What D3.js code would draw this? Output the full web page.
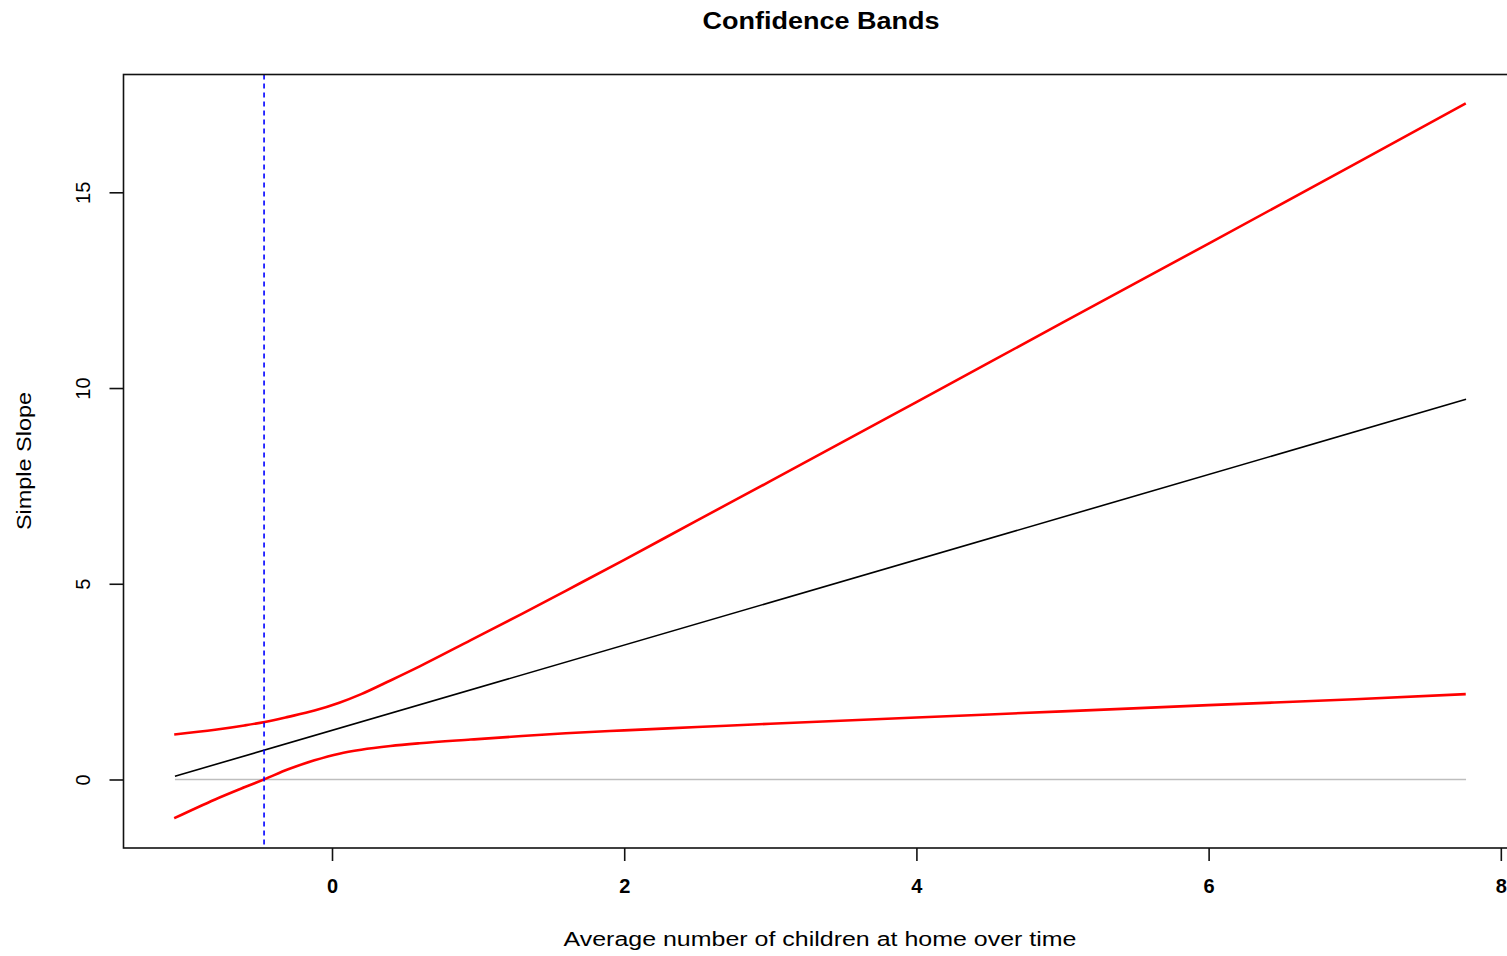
<!DOCTYPE html>
<html>
<head>
<meta charset="utf-8">
<script src="https://cdn.jsdelivr.net/npm/d3@7"></script>
<style>
  html, body { margin: 0; padding: 0; background: #fff; overflow: hidden; }
  svg { display: block; font-family: "Liberation Sans", Arial, Helvetica, sans-serif; }
</style>
</head>
<body>
<svg id="chart" width="1507" height="956"></svg>
<script>
// ---- data ----
const title = "Confidence Bands";
const xTitle = "Average number of children at home over time";
const yTitle = "Simple Slope";
const xTicks = [0, 2, 4, 6, 8];
const yTicks = [0, 5, 10, 15];

const slopeX = [-1.075, 7.762];
const slopeY = [0.083, 9.711];

const bandX  = [-1.08, -0.8, -0.6, -0.46, -0.3, -0.12, 0.05, 0.2, 0.4, 0.6, 0.95, 1.3, 1.6, 2.0, 2.5, 3.0, 4.0, 5.0, 6.0, 7.0, 7.76];
const upperY = [1.15, 1.27, 1.38, 1.47, 1.60, 1.76, 1.96, 2.18, 2.53, 2.89, 3.56, 4.23, 4.82, 5.61, 6.62, 7.62, 9.64, 11.67, 13.69, 15.72, 17.27];
const lowerY = [-0.99, -0.51, -0.20, 0.01, 0.26, 0.49, 0.66, 0.76, 0.855, 0.925, 1.02, 1.11, 1.18, 1.255, 1.34, 1.425, 1.585, 1.74, 1.90, 2.05, 2.18];

const zeroX = [-1.075, 7.762];
const zeroY = [0, 0];

const jnPoint = -0.465;   // vertical dashed line position

// ---- layout ----
const svg = d3.select("#chart");
const plot = { left: 123.5, top: 74.5, right: 1518.5, bottom: 848 };

const x = d3.scaleLinear().domain([-1.436, 8.121]).range([plot.left - 1.3, plot.right]);
const y = d3.scaleLinear().domain([-1.75, 18.04]).range([plot.bottom, plot.top - 1.2]);

const line = d3.line().x(d => x(d[0])).y(d => y(d[1]));
const smooth = d3.line().x(d => x(d[0])).y(d => y(d[1])).curve(d3.curveMonotoneX);
const zip = (a, b) => a.map((v, i) => [v, b[i]]);

// zero reference line
svg.append("path").attr("d", line(zip(zeroX, zeroY)))
  .attr("fill", "none").attr("stroke", "#bebebe").attr("stroke-width", 1.6);

// simple slope line
svg.append("path").attr("d", line(zip(slopeX, slopeY)))
  .attr("fill", "none").attr("stroke", "#000").attr("stroke-width", 1.6);

// confidence bands
svg.append("path").attr("d", smooth(zip(bandX, upperY)))
  .attr("fill", "none").attr("stroke", "#ff0000").attr("stroke-width", 2.6);
svg.append("path").attr("d", smooth(zip(bandX, lowerY)))
  .attr("fill", "none").attr("stroke", "#ff0000").attr("stroke-width", 2.6);

// dashed vertical line
svg.append("line")
  .attr("x1", x(jnPoint)).attr("x2", x(jnPoint))
  .attr("y1", plot.top).attr("y2", plot.bottom)
  .attr("stroke", "#0000ff").attr("stroke-width", 1.6)
  .attr("stroke-dasharray", "5,4");

// plot box
svg.append("rect")
  .attr("x", plot.left).attr("y", plot.top)
  .attr("width", plot.right - plot.left).attr("height", plot.bottom - plot.top)
  .attr("fill", "none").attr("stroke", "#111").attr("stroke-width", 1.6);

// x axis
const xAxis = svg.append("g").attr("transform", `translate(0,${plot.bottom})`)
  .call(d3.axisBottom(x).tickValues(xTicks).tickSize(13).tickPadding(18).tickFormat(d3.format("d")));
xAxis.select(".domain").remove();
xAxis.selectAll(".tick line").attr("stroke", "#111").attr("stroke-width", 1.6);
xAxis.selectAll(".tick text")
  .attr("fill", "#000").style("font-size", "20px").style("font-weight", "bold");

// y axis
const yAxis = svg.append("g").attr("transform", `translate(${plot.left},0)`)
  .call(d3.axisLeft(y).tickValues(yTicks).tickSize(14).tickFormat(d3.format("d")));
yAxis.select(".domain").remove();
yAxis.selectAll(".tick line").attr("stroke", "#111").attr("stroke-width", 1.6);
yAxis.selectAll(".tick text")
  .attr("fill", "#000").style("font-size", "20px")
  .attr("x", null).attr("dy", null)
  .attr("text-anchor", "middle")
  .attr("dominant-baseline", "central")
  .attr("transform", "translate(-41,0) rotate(-90)");

// titles
svg.append("text").text(title)
  .attr("x", 821).attr("y", 29)
  .attr("text-anchor", "middle")
  .attr("textLength", 237).attr("lengthAdjust", "spacingAndGlyphs")
  .style("font-size", "23px").style("font-weight", "bold");

svg.append("text").text(xTitle)
  .attr("x", 820).attr("y", 946)
  .attr("text-anchor", "middle")
  .attr("textLength", 513).attr("lengthAdjust", "spacingAndGlyphs")
  .style("font-size", "20px");

svg.append("text").text(yTitle)
  .attr("transform", "translate(31,461) rotate(-90)")
  .attr("text-anchor", "middle")
  .attr("textLength", 138).attr("lengthAdjust", "spacingAndGlyphs")
  .style("font-size", "20px");
</script>
</body>
</html>
